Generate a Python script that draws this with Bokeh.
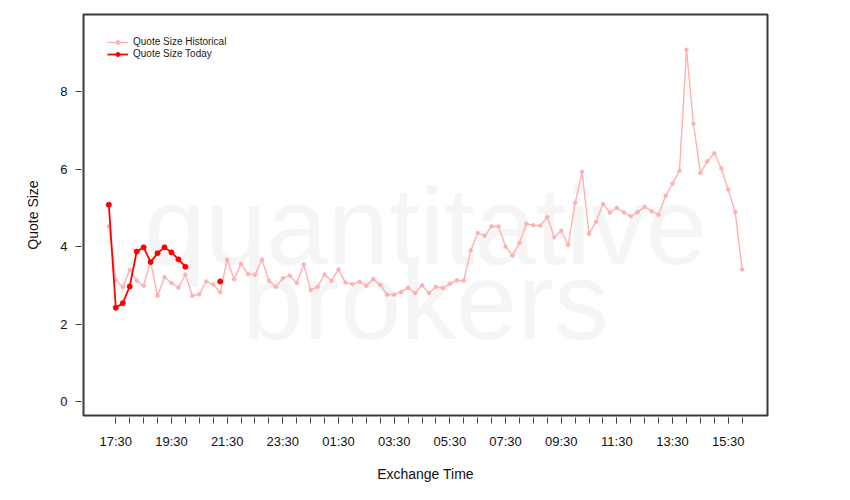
import math
from bokeh.plotting import figure
from bokeh.models import FixedTicker, Legend, LegendItem
from bokeh.core.properties import value
from bokeh.embed import file_html
from bokeh.resources import INLINE

# ---- data ----
start_hour = 17.25          # first sample at 17:15
step_hours = 0.25           # 15-minute buckets

historical = [4.52, 3.14, 2.95, 3.40, 3.12, 2.99, 3.61, 2.73, 3.21, 3.06,
              2.94, 3.28, 2.73, 2.77, 3.10, 3.02, 2.82, 3.66, 3.16, 3.55,
              3.29, 3.27, 3.66, 3.12, 2.96, 3.18, 3.25, 3.06, 3.54, 2.88,
              2.96, 3.28, 3.12, 3.41, 3.07, 3.03, 3.09, 2.99, 3.16, 3.01,
              2.76, 2.76, 2.83, 2.94, 2.80, 3.00, 2.80, 2.96, 2.93, 3.04,
              3.13, 3.12, 3.90, 4.35, 4.28, 4.52, 4.52, 4.00, 3.77, 4.09,
              4.59, 4.55, 4.54, 4.76, 4.24, 4.41, 4.04, 5.13, 5.93, 4.33,
              4.64, 5.10, 4.88, 5.00, 4.88, 4.78, 4.89, 5.03, 4.91, 4.82,
              5.31, 5.63, 5.96, 9.08, 7.17, 5.90, 6.20, 6.41, 6.02, 5.47,
              4.89, 3.41]

today = [5.08, 2.42, 2.54, 2.97, 3.87, 3.98, 3.60, 3.83, 3.98, 3.85,
         3.67, 3.48, None, None, None, None, 3.10]

major_ticks = [17.5, 19.5, 21.5, 23.5, 25.5, 27.5, 29.5, 31.5, 33.5, 35.5, 37.5, 39.5]
tick_labels = ["17:30", "19:30", "21:30", "23:30", "01:30", "03:30",
               "05:30", "07:30", "09:30", "11:30", "13:30", "15:30"]
minor_ticks = [17.5 + 0.5 * k for k in range(46)]   # every 30 minutes to 16:00
y_ticks = [0, 2, 4, 6, 8]

x_hist = [start_hour + step_hours * i for i in range(len(historical))]
x_today = [start_hour + step_hours * i for i in range(len(today))]
y_today = [float("nan") if v is None else v for v in today]

FONT = "Liberation Sans"

xmin, xmax = x_hist[0], x_hist[-1]
pad = 0.04 * (xmax - xmin)

p = figure(width=842, height=492, output_backend="svg", toolbar_location=None,
           x_range=(xmin - pad, xmax + pad), y_range=(-0.36, 9.99),
           min_border_left=83, min_border_right=75, min_border_top=14,
           min_border_bottom=77)
p.background_fill_color = "white"
p.border_fill_color = "white"
p.outline_line_color = "#3a3a3a"
p.outline_line_width = 2
p.grid.visible = False

# watermark
p.text(x=[(xmin + xmax) / 2], y=[4.54], text=["quantitative"],
       text_font=value(FONT), text_font_size="110px", text_color="#f5f5f5",
       text_align="center", text_baseline="alphabetic")
p.text(x=[(xmin + xmax) / 2], y=[2.61], text=["brokers"],
       text_font=value(FONT), text_font_size="110px", text_color="#f5f5f5",
       text_align="center", text_baseline="alphabetic")

hist_color = "#ffb0b0"
today_color = "#ff0000"
hl = p.line(x_hist, historical, line_color=hist_color, line_width=1.4)
hs = p.scatter(x_hist, historical, size=3.5, marker="circle",
               fill_color=hist_color, line_color=hist_color)
tl = p.line(x_today, y_today, line_color=today_color, line_width=1.8)
ts = p.scatter(x_today, y_today, size=5, marker="circle",
               fill_color=today_color, line_color=today_color)

legend = Legend(items=[LegendItem(label="Quote Size Historical", renderers=[hl, hs]),
                       LegendItem(label="Quote Size Today", renderers=[tl, ts])],
                location=(24, 356), margin=0, padding=0, spacing=1,
                glyph_width=21, glyph_height=10, label_height=10,
                label_standoff=5, border_line_color=None,
                background_fill_alpha=0,
                label_text_font=FONT, label_text_font_size="10px",
                label_text_color="#222222", label_text_baseline="middle")
p.add_layout(legend)

# axes
xa = p.xaxis[0]
xa.ticker = FixedTicker(ticks=major_ticks, minor_ticks=minor_ticks)
xa.major_label_overrides = {t: l for t, l in zip(major_ticks, tick_labels)}
xa.axis_label = "Exchange Time"

ya = p.yaxis[0]
ya.ticker = FixedTicker(ticks=y_ticks, minor_ticks=[])
ya.axis_label = "Quote Size"

for ax in (xa, ya):
    ax.axis_line_color = None
    ax.major_tick_in = -2
    ax.major_tick_out = 8
    ax.minor_tick_in = -2
    ax.minor_tick_out = 8
    ax.major_tick_line_color = "#444444"
    ax.minor_tick_line_color = "#444444"
    ax.major_label_text_font = FONT
    ax.major_label_text_font_size = "13px"
    ax.major_label_text_color = "#111111"
    ax.axis_label_text_font = FONT
    ax.axis_label_text_font_size = "14px"
    ax.axis_label_text_font_style = "normal"
    ax.axis_label_text_color = "#111111"

xa.major_label_standoff = 10
xa.axis_label_standoff = 14
ya.major_label_standoff = 8
ya.axis_label_standoff = 16
ya.major_label_orientation = "horizontal"

open("out.html", "w").write(file_html(p, INLINE))
